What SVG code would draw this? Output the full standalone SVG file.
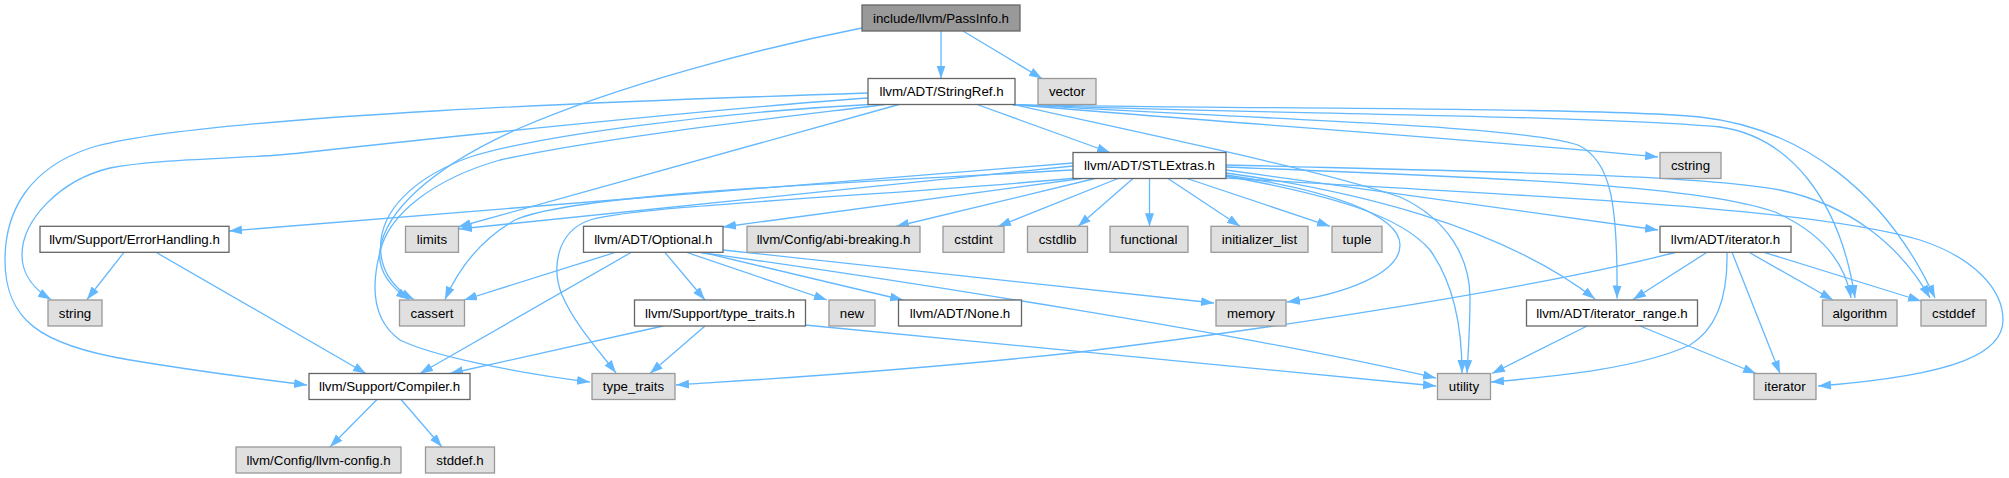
<svg xmlns="http://www.w3.org/2000/svg" width="2009" height="478" viewBox="0 0 2009 478">
<style>
.n rect{stroke-width:1.3}
.doc rect{fill:#ffffff;stroke:#666666}
.ext rect{fill:#e0e0e0;stroke:#999999}
.root rect{fill:#999999;stroke:#666666}
text{font-family:"Liberation Sans",Arial,sans-serif;font-size:13.3px;fill:#000;text-anchor:middle}
#edges path{fill:none;stroke:#63b8ff;stroke-width:1.3;marker-end:url(#ah)}
</style>
<defs>
<marker id="ah" markerUnits="userSpaceOnUse" markerWidth="14" markerHeight="10" refX="13" refY="4.5" orient="auto">
<path d="M0,0 L13,4.5 L0,9 z" fill="#63b8ff"/>
</marker>
</defs>
<rect width="2009" height="478" fill="#ffffff"/>
<g id="edges">
<path d="M941,31 L941,78.5"/>
<path d="M963,31 L1042,78.5"/>
<path d="M862,28 C760,48 620,85 520,128 C430,168 385,212 380,250 C377,272 392,288 409,299.5"/>
<path d="M977,104.5 L1110,152.5"/>
<path d="M868,93 C650,100 200,115 90,148 C30,168 5,210 5,260 C5,320 40,345 130,360 C190,370 250,378 307,385"/>
<path d="M868,98 C700,110 400,142 300,153 C250,159 160,158 110,168 C60,180 22,220 22,255 C22,275 35,290 51,299.5"/>
<path d="M870,104.5 C720,112 540,135 470,157 C420,175 385,205 381,240 C378,268 392,288 414,299.5"/>
<path d="M885,104.5 C760,120 600,138 500,160 C430,180 392,215 382,245 C370,285 372,320 400,340 C430,355 510,372 590,382"/>
<path d="M899,104.5 L458,227"/>
<path d="M1013,104.5 C1200,121 1450,137 1658,157"/>
<path d="M1013,104.5 C1200,113 1600,115 1720,127 C1790,137 1840,200 1855,298"/>
<path d="M1013,104.5 C1200,109 1600,107 1700,117 C1800,128 1885,190 1935,298"/>
<path d="M1013,104.5 C1300,121 1520,126 1578,145 C1610,160 1618,200 1617,298.5"/>
<path d="M1013,104.5 C1150,135 1320,170 1400,197 C1450,220 1470,260 1470,298 C1470,330 1468,355 1467,373"/>
<path d="M1073,163 L229,231"/>
<path d="M1073,166 L459,229"/>
<path d="M1073,170 C800,185 570,195 515,220 C480,240 458,270 445,299.5"/>
<path d="M1082,178.5 L723,227"/>
<path d="M1076,178 C900,195 640,205 590,220 C555,232 552,270 562,295 C575,325 600,352 616,373"/>
<path d="M1095,178.5 L896,226.5"/>
<path d="M1118,178.5 L998,226.5"/>
<path d="M1133,178.5 L1078,226.5"/>
<path d="M1149.5,178.5 L1149.5,226.3"/>
<path d="M1168,178.5 L1240,226.3"/>
<path d="M1187,178.5 L1330,226.3"/>
<path d="M1226,170 L1658,230"/>
<path d="M1226,173 C1350,190 1500,225 1595,299"/>
<path d="M1226,176 C1330,195 1400,215 1430,250 C1455,285 1462,330 1462,373"/>
<path d="M1226,175 C1330,190 1400,215 1400,245 C1400,275 1340,295 1287,302"/>
<path d="M1226,167 C1500,178 1700,185 1775,212 C1820,232 1845,262 1851,298"/>
<path d="M1226,165 C1500,172 1700,175 1780,190 C1850,205 1900,245 1930,298"/>
<path d="M1226,178 C1500,195 1800,205 1920,240 C1975,258 2003,290 2003,320 C2003,352 1960,375 1818,386"/>
<path d="M124,252.3 L87,299.5"/>
<path d="M156,252.3 L366,373.5"/>
<path d="M615,252.5 L464,300"/>
<path d="M631,252.5 L420,373.5"/>
<path d="M665,252.5 L705,300"/>
<path d="M687,252.5 L827,300"/>
<path d="M703,252.5 L903,300"/>
<path d="M723,250 L1214,303"/>
<path d="M700,252.5 C900,280 1250,335 1436,378"/>
<path d="M663,326 L450,373.5"/>
<path d="M705,326 L650,373.5"/>
<path d="M805,325 L1436,386"/>
<path d="M377,399.5 L330,447"/>
<path d="M401,399.5 L442,447"/>
<path d="M1707,252.3 L1633,299.5"/>
<path d="M1727,252.3 C1728,300 1715,330 1690,345 C1640,368 1560,376 1491,382"/>
<path d="M1732,252.3 L1780,373.5"/>
<path d="M1749,252.3 L1833,300"/>
<path d="M1764,252.3 L1921,301"/>
<path d="M1675,252.5 C1550,285 1300,325 1080,352 C900,372 750,380 676,385"/>
<path d="M1587,326 L1492,373.5"/>
<path d="M1640,326 L1756,373.5"/>
</g>
<g id="n_passinfo" class="n root"><rect x="862" y="5" width="158" height="26"/><text x="941" y="22.5">include/llvm/PassInfo.h</text></g>
<g id="n_stringref" class="n doc"><rect x="868" y="78.5" width="147" height="26"/><text x="941.5" y="96">llvm/ADT/StringRef.h</text></g>
<g id="n_vector" class="n ext"><rect x="1038" y="78.5" width="58" height="26"/><text x="1067" y="96">vector</text></g>
<g id="n_stlextras" class="n doc"><rect x="1073" y="152.5" width="153" height="26"/><text x="1149.5" y="170">llvm/ADT/STLExtras.h</text></g>
<g id="n_cstring" class="n ext"><rect x="1660" y="152.5" width="61" height="26"/><text x="1690.5" y="170">cstring</text></g>
<g id="n_errorhandling" class="n doc"><rect x="40" y="226.3" width="189" height="26"/><text x="134.5" y="243.8">llvm/Support/ErrorHandling.h</text></g>
<g id="n_limits" class="n ext"><rect x="405.5" y="226.3" width="53" height="26"/><text x="432" y="243.8">limits</text></g>
<g id="n_optional" class="n doc"><rect x="583.5" y="226.3" width="139.5" height="26"/><text x="653.25" y="243.8">llvm/ADT/Optional.h</text></g>
<g id="n_abibreaking" class="n ext"><rect x="747" y="226.3" width="173" height="26"/><text x="833.5" y="243.8">llvm/Config/abi-breaking.h</text></g>
<g id="n_cstdint" class="n ext"><rect x="943" y="226.3" width="61" height="26"/><text x="973.5" y="243.8">cstdint</text></g>
<g id="n_cstdlib" class="n ext"><rect x="1027.5" y="226.3" width="60" height="26"/><text x="1057.5" y="243.8">cstdlib</text></g>
<g id="n_functional" class="n ext"><rect x="1110" y="226.3" width="78" height="26"/><text x="1149" y="243.8">functional</text></g>
<g id="n_initializer_list" class="n ext"><rect x="1211" y="226.3" width="97" height="26"/><text x="1259.5" y="243.8">initializer_list</text></g>
<g id="n_tuple" class="n ext"><rect x="1332" y="226.3" width="50" height="26"/><text x="1357" y="243.8">tuple</text></g>
<g id="n_iterator_h" class="n doc"><rect x="1660" y="226.3" width="131" height="26"/><text x="1725.5" y="243.8">llvm/ADT/iterator.h</text></g>
<g id="n_string" class="n ext"><rect x="48" y="300" width="54" height="26"/><text x="75" y="317.5">string</text></g>
<g id="n_cassert" class="n ext"><rect x="399.5" y="300" width="65" height="26"/><text x="432" y="317.5">cassert</text></g>
<g id="n_typetraits_h" class="n doc"><rect x="634.5" y="300" width="171" height="26"/><text x="720" y="317.5">llvm/Support/type_traits.h</text></g>
<g id="n_new" class="n ext"><rect x="829" y="300" width="46" height="26"/><text x="852" y="317.5">new</text></g>
<g id="n_none" class="n doc"><rect x="898.5" y="300" width="123" height="26"/><text x="960" y="317.5">llvm/ADT/None.h</text></g>
<g id="n_memory" class="n ext"><rect x="1216" y="300" width="70" height="26"/><text x="1251" y="317.5">memory</text></g>
<g id="n_iterator_range" class="n doc"><rect x="1526.5" y="300" width="171" height="26"/><text x="1612" y="317.5">llvm/ADT/iterator_range.h</text></g>
<g id="n_algorithm" class="n ext"><rect x="1822.5" y="300" width="74.5" height="26"/><text x="1859.75" y="317.5">algorithm</text></g>
<g id="n_cstddef" class="n ext"><rect x="1921" y="300" width="65" height="26"/><text x="1953.5" y="317.5">cstddef</text></g>
<g id="n_compiler" class="n doc"><rect x="309" y="373.5" width="161" height="26"/><text x="389.5" y="391">llvm/Support/Compiler.h</text></g>
<g id="n_type_traits" class="n ext"><rect x="592" y="373.5" width="83" height="26"/><text x="633.5" y="391">type_traits</text></g>
<g id="n_utility" class="n ext"><rect x="1437.5" y="373.5" width="53" height="26"/><text x="1464" y="391">utility</text></g>
<g id="n_iterator" class="n ext"><rect x="1754" y="373.5" width="62" height="26"/><text x="1785" y="391">iterator</text></g>
<g id="n_llvmconfig" class="n ext"><rect x="236" y="447" width="165" height="26"/><text x="318.5" y="464.5">llvm/Config/llvm-config.h</text></g>
<g id="n_stddef" class="n ext"><rect x="425.5" y="447" width="69" height="26"/><text x="460" y="464.5">stddef.h</text></g>
</svg>
